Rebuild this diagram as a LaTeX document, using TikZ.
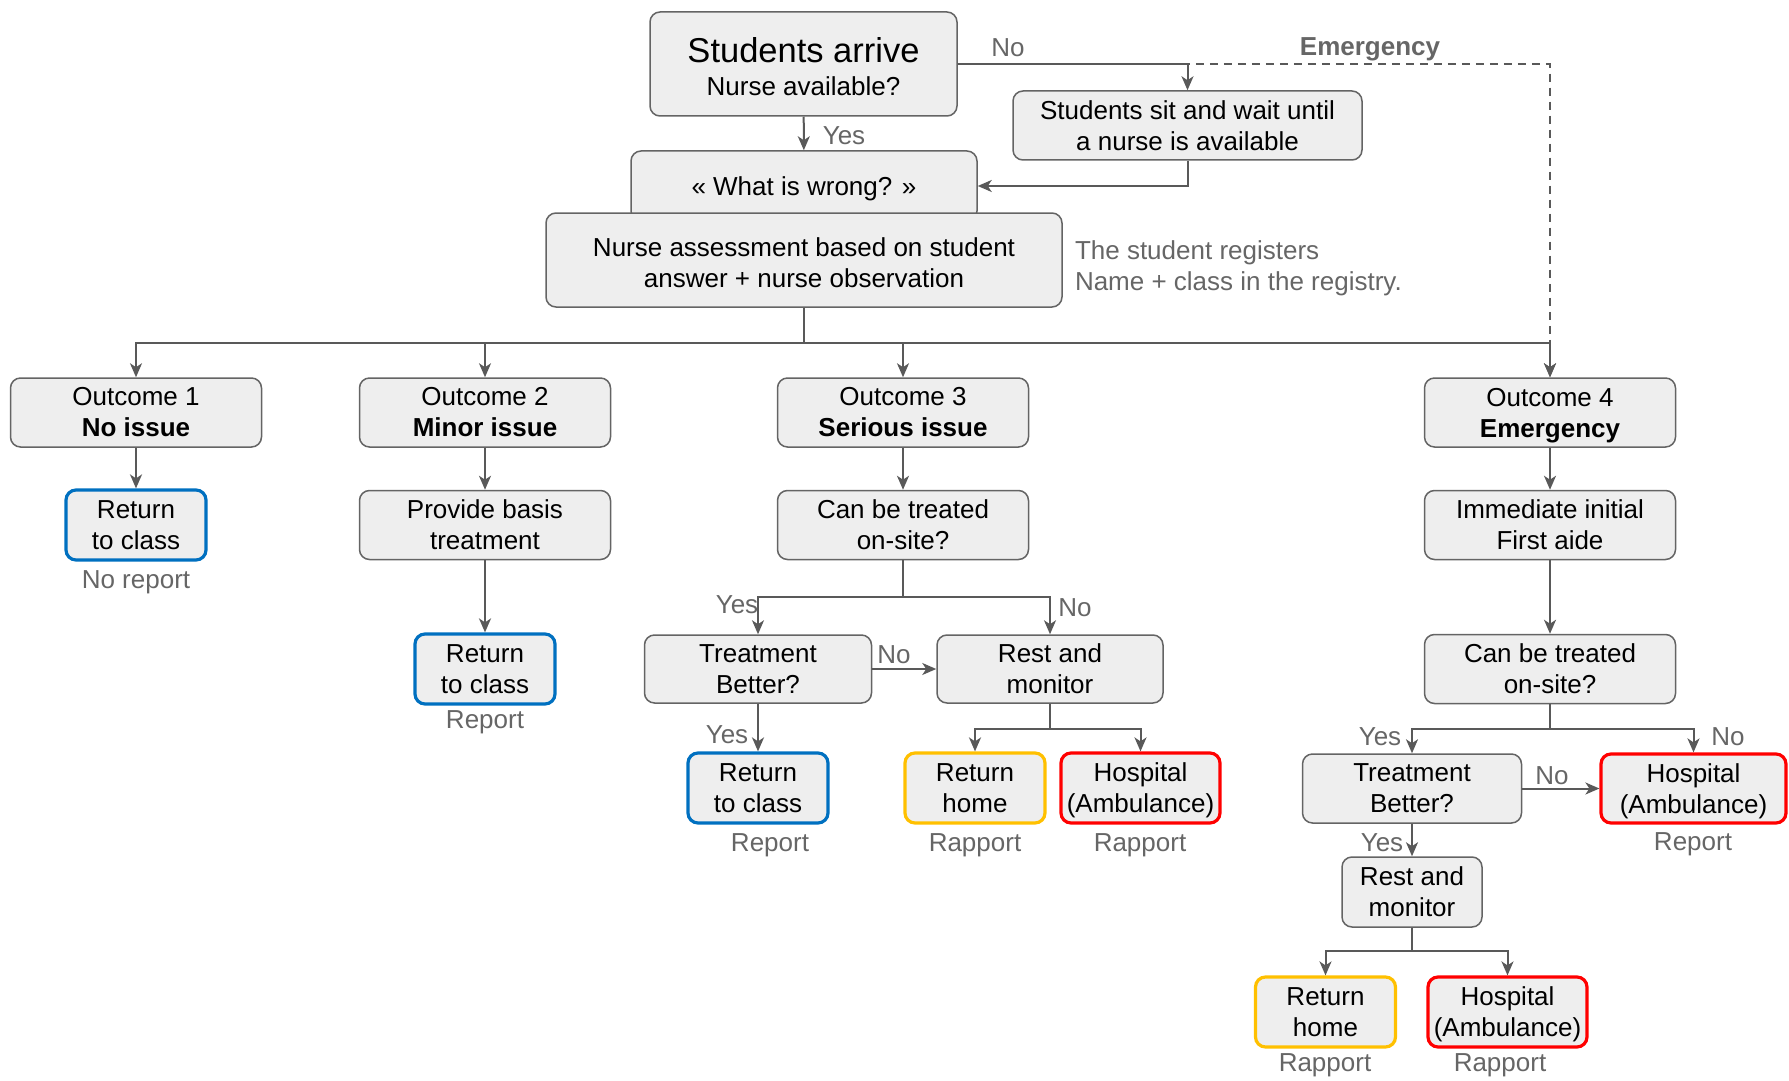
\documentclass[tikz,border=0pt]{standalone}
\usepackage{fontspec}
\setmainfont{Liberation Sans}
\usetikzlibrary{arrows.meta}
\definecolor{boxfill}{HTML}{EEEEEE}
\definecolor{boxline}{HTML}{646464}
\definecolor{arrline}{HTML}{595959}
\definecolor{lblgrey}{HTML}{666666}
\definecolor{blueline}{HTML}{0070C0}
\definecolor{yelline}{HTML}{FFC000}
\definecolor{redline}{HTML}{FF0000}

\begin{document}
\begin{tikzpicture}[->,>={Stealth[length=7pt,width=6pt,inset=2pt]},x=0.5pt,y=-0.5pt,
   color=arrline,line width=1pt,
   box/.style={draw=boxline,fill=boxfill,text=black,rounded corners=5pt,line width=0.75pt,
      align=center,inner sep=0pt,font=\fontsize{13}{15.5}\selectfont},
   big/.style={box,minimum width=125.5pt,minimum height=34.5pt},
   sml/.style={box,minimum width=70pt,minimum height=35pt},
   hosp/.style={box,minimum width=79.5pt,minimum height=35pt},
   blu/.style={sml,draw=blueline,line width=1.6pt},
   yel/.style={sml,draw=yelline,line width=1.6pt},
   red/.style={hosp,draw=redline,line width=1.6pt},
   lbl/.style={text=lblgrey,inner sep=0pt,font=\fontsize{13}{15.5}\selectfont}]
   \useasboundingbox (0,0) rectangle (1789,1081);

   % top
   \node[box,minimum width=153.5pt,minimum height=52pt] (sa) at (803.5,64)
      {\rule{0pt}{15pt}{\fontsize{17.25}{20}\selectfont Students arrive}\\[1pt]Nurse available?};
   \node[box,minimum width=174.5pt,minimum height=34.5pt] (ww) at (1187.5,125.5)
      {Students sit and wait until\\a nurse is available};
   \node[box,minimum width=173pt,minimum height=35pt] (wr) at (804,186)
      {\raisebox{0pt}[\height][0pt]{« What is wrong? »}};
   \node[box,minimum width=258pt,minimum height=47pt] (na) at (804,260)
      {\rule{0pt}{11.8pt}Nurse assessment based on student\\answer + nurse observation};
   \node[lbl,anchor=west,align=left] (reg) at (1074,268)
      {The student registers\\Name + class in the registry.};

   % outcomes
   \node[big] (o1) at (136,412.5) {Outcome 1\\\textbf{No issue}};
   \node[big] (o2) at (485,412.5) {Outcome 2\\\textbf{Minor issue}};
   \node[big] (o3) at (903,412.5) {Outcome 3\\\textbf{Serious issue}};
   \node[big] (o4) at (1550,412.5) {Outcome 4\\\smash{\textbf{Emergency}}};

   \node[blu] (r1) at (136,525) {Return\\to class};
   \node[big] (pb) at (485,525) {Provide basis\\treatment};
   \node[big] (ct3) at (903,525) {Can be treated\\on-site?};
   \node[big] (ia) at (1550,525) {Immediate initial\\First aide};

   \node[blu] (r2) at (485,669) {Return\\to class};
   \node[box,minimum width=113.5pt,minimum height=34pt] (tb3) at (758,669) {Treatment\\Better?};
   \node[box,minimum width=113pt,minimum height=34pt] (rm3) at (1050,669) {Rest and\\monitor};
   \node[big] (ct4) at (1550,669) {Can be treated\\on-site?};

   \node[blu] (r3) at (758,788) {Return\\to class};
   \node[yel] (rh3) at (975,788) {Return\\home};
   \node[red] (h3) at (1140.5,788) {Hospital\\\smash{(Ambulance)}};
   \node[box,minimum width=109.5pt,minimum height=34.5pt] (tb4) at (1412,788.5) {Treatment\\Better?};
   \node[red,minimum width=92.5pt,minimum height=34.5pt] (h4) at (1693.5,788.5) {Hospital\\\smash{(Ambulance)}};

   \node[sml] (rm4) at (1412,892) {Rest and\\monitor};
   \node[yel] (rh4) at (1325.5,1012) {Return\\home};
   \node[red] (h5) at (1507.5,1012) {Hospital\\\smash{(Ambulance)}};

   % report notes
   \node[lbl] (p1) at (136,582) {No report};
   \node[lbl] (p2) at (485,722) {Report};
   \node[lbl] (p3) at (770,845) {Report};
   \node[lbl] (p4) at (975,845) {Rapport};
   \node[lbl] (p5) at (1140,845) {Rapport};
   \node[lbl] (p6) at (1693,844) {Report};
   \node[lbl] (p7) at (1325,1065) {Rapport};
   \node[lbl] (p8) at (1500,1065) {Rapport};

   % yes / no
   \node[lbl] (y1) at (844,136) {Yes};
   \node[lbl] (n1) at (1008,48) {No};
   \node[lbl,font=\fontsize{13}{15.5}\selectfont\bfseries] (em) at (1370,49) {Emergency};
   \node[lbl] (y2) at (737,605) {Yes};
   \node[lbl] (n2) at (1075,608) {No};
   \node[lbl] (n3) at (894,655) {No};
   \node[lbl] (y3) at (727,735) {Yes};
   \node[lbl] (y4) at (1380,737) {Yes};
   \node[lbl] (n4) at (1728,737) {No};
   \node[lbl] (n5) at (1552,776) {No};
   \node[lbl] (y5) at (1382,843) {Yes};

   \coordinate (bus) at (804,343);
   \coordinate (s3) at (903,597);
   \coordinate (s4) at (1050,729);
   \coordinate (s5) at (1550,729);
   \coordinate (s6) at (1412,951);

   % connectors
   \draw[dash pattern=on 4pt off 3pt] (sa.east) -| (o4.north);
   \draw (sa.east) -| (ww.north);
   \draw (ww.south) |- (wr.east);
   \draw (sa) -- (wr);
   \draw[-] (na) -- (bus);
   \draw (bus) -| (o1);
   \draw (bus) -| (o2);
   \draw (bus) -| (o3);
   \draw (bus) -| (o4);

   \draw (o1) -- (r1);
   \draw (o2) -- (pb);
   \draw (pb) -- (r2);
   \draw (o3) -- (ct3);
   \draw (o4) -- (ia);
   \draw (ia) -- (ct4);

   \draw[-] (ct3) -- (s3);
   \draw (s3) -| (tb3);
   \draw (s3) -| (rm3);
   \draw (tb3) -- (rm3);
   \draw (tb3) -- (r3);
   \draw[-] (rm3) -- (s4);
   \draw (s4) -| (rh3);
   \draw (s4) -| (h3);

   \draw[-] (ct4) -- (s5);
   \draw (s5) -| (tb4);
   \draw (s5) -| (h4);
   \draw (tb4) -- (h4);
   \draw (tb4) -- (rm4);
   \draw[-] (rm4) -- (s6);
   \draw (s6) -| (rh4);
   \draw (s6) -| (h5);

\end{tikzpicture}
\end{document}
